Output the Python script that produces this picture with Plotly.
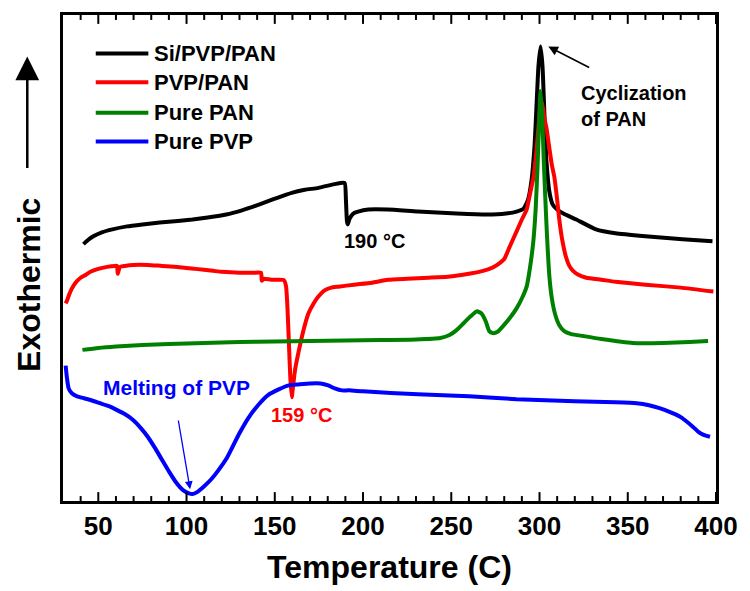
import plotly.graph_objects as go

# ---------------- data (temperature in C, heat flow in arbitrary units) ----------------
T_black = [41.6, 44, 47.2, 52, 58, 66.3, 75, 84.8, 95, 103.4, 112, 122.5, 131, 141, 150, 159.6, 167,
           174.7, 182, 187, 189.6, 190.3, 190.9, 191.4, 192.2, 193.5, 195, 197.2, 203, 214, 231, 253,
           270, 281, 287, 291, 293.5, 295.5, 297.2, 298.3, 299.4, 300.6, 301.7, 302.8, 303.9, 305.6,
           307.5, 310, 313.5, 320.8, 332, 343, 360, 381, 398]
Y_black = [265, 269, 273, 277, 280, 283, 285, 287, 288.5, 290, 292, 295, 299, 305, 311, 317, 320,
           322, 325, 327, 327, 310, 288, 285, 290, 294, 296.5, 298, 300, 300, 298, 296,
           295, 296, 298, 301, 310, 330, 365, 405, 445, 465, 445, 395, 350, 318,
           305, 300, 296, 290, 280, 276, 273, 270, 268]

T_red = [31.5, 32.3, 33.5, 35, 37.1, 40, 43, 45.5, 50, 55, 59.5, 60.6, 61.0, 61.5, 62.2, 65, 70, 78,
         86, 95, 105, 115, 120, 130, 138, 142.2, 142.6, 143.2, 144, 148, 152, 155.2, 156.4, 157.2,
         158, 158.8, 159.6, 160.4, 161.5, 163, 165.2, 167, 169.1, 172, 174.7, 178, 182, 186, 195,
         205, 214, 225, 237, 248, 260, 268, 273, 276, 280, 283, 287, 290, 292.7, 294.5, 296.6,
         298.3, 299.4, 300.3, 301.1, 302, 302.8, 303.9, 305.6, 307, 308.4, 310, 311.2, 313, 315,
         316.9, 319, 322, 326.5, 335, 343, 360, 380, 398.5]
Y_red = [205, 208, 214, 220, 226, 231, 234, 237, 240, 242, 243, 243, 235, 238, 242, 243, 244, 244,
         243, 242, 240, 238, 237, 236, 236, 236, 228, 229, 230, 229, 229, 228.5, 222, 200,
         165, 130, 110, 122, 138, 152, 170, 183, 195, 205, 212, 218, 221, 222, 224,
         226, 229, 230, 231, 232, 235, 238, 241, 244, 250, 262, 278, 290, 300, 315, 333,
         360, 383, 402, 410, 402, 392, 383, 362, 345, 333, 310, 290, 268, 252,
         243, 238, 234, 231, 229, 227, 224, 221, 217]

T_green = [41, 50, 60, 75, 90, 110, 130, 150, 170, 190, 210, 230, 243.8, 249, 253, 257, 261, 264.6,
           267, 269.5, 271.5, 273.5, 276, 279.8, 283.5, 287, 290.5, 292.7, 294.5, 296.5, 297.8,
           298.8, 299.7, 300.6, 301.5, 302.3, 303.2, 304.2, 305.6, 307, 309, 311.2, 314, 318,
           324.7, 335, 352.8, 370, 385, 395.5]
Y_green = [158, 160, 161.5, 163, 164, 165, 166, 166.5, 167, 167.5, 168, 168.5, 170, 173, 178, 185,
           192, 197, 195, 187, 177, 175, 176, 183, 191, 200, 212, 222, 240, 268, 300,
           340, 385, 420, 395, 355, 315, 275, 232, 210, 193, 183, 177, 174,
           172, 169, 165, 165, 166, 167]

T_blue = [31.5, 32.2, 33.2, 35, 38, 42, 46, 51, 56, 60.7, 65, 69.7, 74, 78, 82, 86, 90, 94, 98, 101,
          103.4, 106, 110, 114, 118, 123, 129.8, 135, 141, 146, 152.2, 158, 163.5, 170, 176, 180.3,
          184, 188, 192, 200, 231, 260, 287, 320, 343, 355, 362, 368, 374, 379, 383, 387, 390,
          393, 396.6]
Y_blue = [142, 130, 119, 114, 111, 109, 107, 104, 101, 97, 93, 87, 79, 70, 59, 47, 35, 24, 16, 13,
          12, 14, 20, 27, 36, 49, 73, 89, 103, 112, 118, 122, 123, 124, 124, 122,
          119, 117, 117, 116, 113, 111, 108, 106, 105, 104, 102, 99, 95, 91, 86, 80, 75,
          72, 70]

series_names = ["Si/PVP/PAN", "PVP/PAN", "Pure PAN", "Pure PVP"]
series_colors = ["#000000", "#FF0000", "#008000", "#0000FF"]
series_T = [T_black, T_red, T_green, T_blue]
series_Y = [Y_black, Y_red, Y_green, Y_blue]

major_ticks = [50, 100, 150, 200, 250, 300, 350, 400]
minor_ticks = [t for t in range(40, 400, 10) if t % 50 != 0]
x_range = [30, 400]
y_range = [5, 497]

# ---------------- layout geometry ----------------
W, H = 750, 591
L, R, T, B = 63, 29, 13, 86
PW, PH = W - L - R, H - T - B

def px(x):
    return (x - L) / PW

def py(y):
    return (H - B - y) / PH

FONT = "Liberation Sans, Arial, sans-serif"

fig = go.Figure()
for name, col, xs, ys in zip(series_names, series_colors, series_T, series_Y):
    fig.add_trace(go.Scatter(x=xs, y=ys, mode="lines", name=name,
                             line=dict(color=col, width=4, shape="spline", smoothing=0.5),
                             showlegend=False))

shapes = []
annotations = []

# inside tick marks on bottom and top frame (drawn on the x scale)
for ticks, ln in ((major_ticks, 9), (minor_ticks, 5)):
    for t in ticks:
        for y0, y1 in ((0, ln / PH), (1, 1 - ln / PH)):
            shapes.append(dict(type="line", xref="x", yref="paper", x0=t, x1=t, y0=y0, y1=y1,
                               line=dict(color="black", width=2)))

# manual legend
leg_rows = [52, 81, 112, 141]
for name, col, yy in zip(series_names, series_colors, leg_rows):
    shapes.append(dict(type="line", xref="paper", yref="paper", x0=px(96), x1=px(149),
                       y0=py(yy), y1=py(yy), line=dict(color=col, width=4)))
    annotations.append(dict(xref="paper", yref="paper", x=px(153), y=py(yy), text=name,
                            showarrow=False, xanchor="left", yanchor="middle",
                            font=dict(family=FONT, size=22, color="black", weight="bold")))

# y-axis label with arrow
annotations.append(dict(xref="paper", yref="paper", x=px(28), y=py(286), text="Exothermic",
                        textangle=-90, showarrow=False, xanchor="center", yanchor="middle",
                        font=dict(family=FONT, size=32, color="black", weight="bold")))
annotations.append(dict(xref="paper", yref="paper", x=px(27), y=py(55), text="",
                        showarrow=True, ax=0, ay=113, arrowhead=2, arrowsize=1.9,
                        arrowwidth=2.5, arrowcolor="black"))

# chart annotations
annotations.append(dict(x=322.5, y=405, text="Cyclization<br>of PAN", showarrow=False,
                        xanchor="left", yanchor="middle", align="left",
                        font=dict(family=FONT, size=20, color="black", weight="bold")))
annotations.append(dict(x=305, y=465, ax=329, ay=443, axref="x", ayref="y", text="",
                        showarrow=True, arrowhead=2, arrowsize=1.2, arrowwidth=1.6,
                        arrowcolor="black"))
annotations.append(dict(x=206.6, y=268, text="190 °C", showarrow=False,
                        font=dict(family=FONT, size=20, color="black", weight="bold")))
annotations.append(dict(x=165, y=92, text="159 °C", showarrow=False,
                        font=dict(family=FONT, size=20, color="#FF0000", weight="bold")))
annotations.append(dict(x=94.4, y=120, text="Melting of PVP", showarrow=False,
                        font=dict(family=FONT, size=21, color="#0000FF", weight="bold")))
annotations.append(dict(x=102, y=17, ax=95.2, ay=88, axref="x", ayref="y", text="",
                        showarrow=True, arrowhead=2, arrowsize=1.2, arrowwidth=1.3,
                        arrowcolor="#0000FF"))

fig.update_layout(
    width=W, height=H,
    margin=dict(l=L, r=R, t=T, b=B),
    paper_bgcolor="white", plot_bgcolor="white",
    shapes=shapes, annotations=annotations,
    xaxis=dict(range=x_range, tickmode="array", tickvals=major_ticks,
               ticks="", showline=True, linecolor="black", linewidth=2.5,
               mirror=True, showgrid=False, zeroline=False,
               tickfont=dict(family=FONT, size=26, color="black", weight="bold"),
               title=dict(text="Temperature (C)", standoff=16,
                          font=dict(family=FONT, size=32, color="black", weight="bold"))),
    yaxis=dict(range=y_range, showticklabels=False, showline=True, linecolor="black",
               linewidth=2.5, mirror=True, showgrid=False, zeroline=False),
)

fig.write_html("out.html")
